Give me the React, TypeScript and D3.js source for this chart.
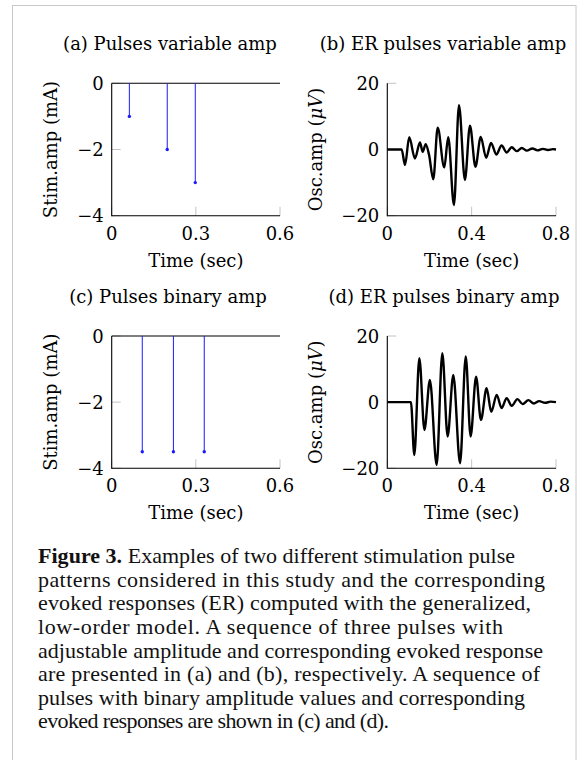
import React from "react";
import * as d3 from "d3";

// ---------- data ----------
const pulseXTicks = [0, 0.3, 0.6];
const pulseYTicks = [0, -2, -4];
const erXTicks = [0, 0.4, 0.8];
const erYTicks = [-20, 0, 20];

const pulsesA_t = [0.063, 0.198, 0.298];
const pulsesA_amp = [-1, -2, -3];
const pulsesC_t = [0.109, 0.22, 0.33];
const pulsesC_amp = [-3.5, -3.5, -3.5];

const erB_t = [0, 0.068, 0.084, 0.104, 0.131, 0.155, 0.168, 0.182, 0.198, 0.218, 0.239, 0.27, 0.289, 0.316, 0.34, 0.368, 0.392, 0.418, 0.443, 0.469, 0.492, 0.517, 0.542, 0.566, 0.59, 0.614, 0.638, 0.662, 0.688, 0.712, 0.738, 0.762, 0.785, 0.8];
const erB_v = [0, 0, -4.7, 3.7, -2.7, 2.1, -0.7, 1.6, -1.6, -9.0, 6.6, -5.4, 3.7, -16.8, 13.4, -9.2, 7.2, -5.2, 3.8, -2.5, 2.0, -1.5, 1.2, -0.9, 0.7, -0.5, 0.45, -0.35, 0.3, -0.25, 0.2, -0.15, 0.1, 0];

const erD_t = [0, 0.112, 0.128, 0.152, 0.176, 0.202, 0.234, 0.261, 0.286, 0.313, 0.345, 0.372, 0.395, 0.421, 0.444, 0.471, 0.493, 0.519, 0.542, 0.566, 0.59, 0.617, 0.642, 0.669, 0.695, 0.72, 0.748, 0.775, 0.8];
const erD_v = [0, 0, -16.0, 13.3, -8.4, 6.7, -19.0, 14.8, -10.4, 8.2, -18.5, 13.8, -10.4, 7.7, -5.4, 4.2, -2.9, 2.2, -1.8, 1.2, -1.1, 0.9, -0.6, 0.6, -0.4, 0.3, -0.2, 0.15, 0];

const titles = ["(a) Pulses variable amp", "(b) ER pulses variable amp", "(c) Pulses binary amp", "(d) ER pulses binary amp"];

const captionLines = [
  "Examples of two different stimulation pulse",
  "patterns considered in this study and the corresponding",
  "evoked responses (ER) computed with the generalized,",
  "low-order model. A sequence of three pulses with",
  "adjustable amplitude and corresponding evoked response",
  "are presented in (a) and (b), respectively. A sequence of",
  "pulses with binary amplitude values and corresponding",
  "evoked responses are shown in (c) and (d).",
];
const captionLineEnds = [515, 545, 531, 503, 543, 540, 525, 389];

const FONT = "'DejaVu Serif', serif";
const CAPFONT = "'Liberation Serif', serif";
const TICKGRAY = "#c4c4c4";
const FS = 18;

const fmt = (v: number) => (v < 0 ? "\u2212" + Math.abs(v) : String(v));

type PanelProps = {
  x0: number; x1: number; yTop: number; yBot: number;
  xDomain: [number, number]; yDomain: [number, number];
  xTicks: number[]; yTicks: number[];
  title: string; titleX: number; titleY: number;
  ylabel: React.ReactNode; ylabelX: number;
  children: (x: d3.ScaleLinear<number, number>, y: d3.ScaleLinear<number, number>) => React.ReactNode;
};

function Panel(p: PanelProps) {
  const x = d3.scaleLinear().domain(p.xDomain).range([p.x0, p.x1]);
  const y = d3.scaleLinear().domain(p.yDomain).range([p.yBot, p.yTop]);
  const cy = (p.yTop + p.yBot) / 2;
  const cx = (p.x0 + p.x1) / 2;
  return (
    <g>
      <text x={p.titleX} y={p.titleY} textAnchor="middle" fontFamily={FONT} fontSize={FS}>{p.title}</text>
      {p.yTicks.map((t) => (
        <g key={"y" + t}>
          <line x1={p.x0} x2={p.x0 + 9} y1={y(t)} y2={y(t)} stroke={TICKGRAY} strokeWidth={1} />
          <text x={p.x0 - 8} y={y(t) + 6.5} textAnchor="end" fontFamily={FONT} fontSize={FS}>{fmt(t)}</text>
        </g>
      ))}
      {p.xTicks.map((t) => (
        <g key={"x" + t}>
          <line x1={x(t)} x2={x(t)} y1={p.yBot} y2={p.yBot - 9} stroke={TICKGRAY} strokeWidth={1} />
          <text x={x(t)} y={p.yBot + 24} textAnchor="middle" fontFamily={FONT} fontSize={FS}>{fmt(t)}</text>
        </g>
      ))}
      {p.children(x, y)}
      <line x1={p.x0} x2={p.x0} y1={p.yTop} y2={p.yBot + 0.5} stroke="#000" strokeWidth={1.1} />
      <line x1={p.x0} x2={p.x1} y1={p.yBot} y2={p.yBot} stroke="#000" strokeWidth={1.1} />
      <text x={cx} y={p.yBot + 51} textAnchor="middle" fontFamily={FONT} fontSize={FS}>Time (sec)</text>
      <text transform={`translate(${p.ylabelX},${cy}) rotate(-90)`} textAnchor="middle" fontFamily={FONT} fontSize={FS}>{p.ylabel}</text>
    </g>
  );
}

function Stems({ x, y, ts, amps }: { x: any; y: any; ts: number[]; amps: number[] }) {
  return (
    <g>
      <line x1={x.range()[0]} x2={x.range()[1]} y1={y(0)} y2={y(0)} stroke="#000" strokeWidth={1.1} />
      {ts.map((t, i) => (
        <g key={i}>
          <line x1={x(t)} x2={x(t)} y1={y(0)} y2={y(amps[i])} stroke="#1a1aff" strokeWidth={1} />
          <circle cx={x(t)} cy={y(amps[i])} r={1.7} fill="#1a1aff" />
        </g>
      ))}
    </g>
  );
}

function Curve({ x, y, ts, vs }: { x: any; y: any; ts: number[]; vs: number[] }) {
  const pts = ts.map((t, i) => [t, vs[i]] as [number, number]);
  const line = d3.line<[number, number]>().x((d) => x(d[0])).y((d) => y(d[1])).curve(d3.curveMonotoneX);
  return <path d={line(pts) || ""} fill="none" stroke="#000" strokeWidth={2.4} strokeLinejoin="round" />;
}

const oscLabel = (
  <>
    Osc.amp (<tspan fontStyle="italic">μV</tspan>)
  </>
);

export default function App() {
  const rowTop = [83.3, 336];
  const rowBot = [215.7, 468.3];
  const titleY = [50, 303];
  return (
    <div style={{ position: "absolute", left: 0, top: 0 }}>
      <svg width={587} height={760} style={{ display: "block", background: "#fff" }}>
        <rect x={12.5} y={5.5} width={563.5} height={800} fill="none" stroke="#c8c8c8" strokeWidth={1} />
        <Panel x0={111.7} x1={280} yTop={rowTop[0]} yBot={rowBot[0]} xDomain={[0, 0.6]} yDomain={[-4, 0]}
          xTicks={pulseXTicks} yTicks={pulseYTicks} title={titles[0]} titleX={170} titleY={titleY[0]}
          ylabel="Stim.amp (mA)" ylabelX={57}>
          {(x, y) => <Stems x={x} y={y} ts={pulsesA_t} amps={pulsesA_amp} />}
        </Panel>
        <Panel x0={387.3} x1={556} yTop={rowTop[0]} yBot={rowBot[0]} xDomain={[0, 0.8]} yDomain={[-20, 20]}
          xTicks={erXTicks} yTicks={erYTicks} title={titles[1]} titleX={443} titleY={titleY[0]}
          ylabel={oscLabel} ylabelX={322}>
          {(x, y) => <Curve x={x} y={y} ts={erB_t} vs={erB_v} />}
        </Panel>
        <Panel x0={111.7} x1={280} yTop={rowTop[1]} yBot={rowBot[1]} xDomain={[0, 0.6]} yDomain={[-4, 0]}
          xTicks={pulseXTicks} yTicks={pulseYTicks} title={titles[2]} titleX={168} titleY={titleY[1]}
          ylabel="Stim.amp (mA)" ylabelX={57}>
          {(x, y) => <Stems x={x} y={y} ts={pulsesC_t} amps={pulsesC_amp} />}
        </Panel>
        <Panel x0={387.3} x1={556} yTop={rowTop[1]} yBot={rowBot[1]} xDomain={[0, 0.8]} yDomain={[-20, 20]}
          xTicks={erXTicks} yTicks={erYTicks} title={titles[3]} titleX={444} titleY={titleY[1]}
          ylabel={oscLabel} ylabelX={322}>
          {(x, y) => <Curve x={x} y={y} ts={erD_t} vs={erD_v} />}
        </Panel>
        <g fontFamily={CAPFONT} fontSize={22} fill="#111">
          {captionLines.map((l, i) => (
            <text key={i} x={38} y={563.3 + i * 23.57} textLength={captionLineEnds[i] - 38} lengthAdjust="spacing">
              {i === 0 ? (<><tspan fontWeight="bold">Figure 3.</tspan> {l}</>) : l}
            </text>
          ))}
        </g>
      </svg>
    </div>
  );
}
